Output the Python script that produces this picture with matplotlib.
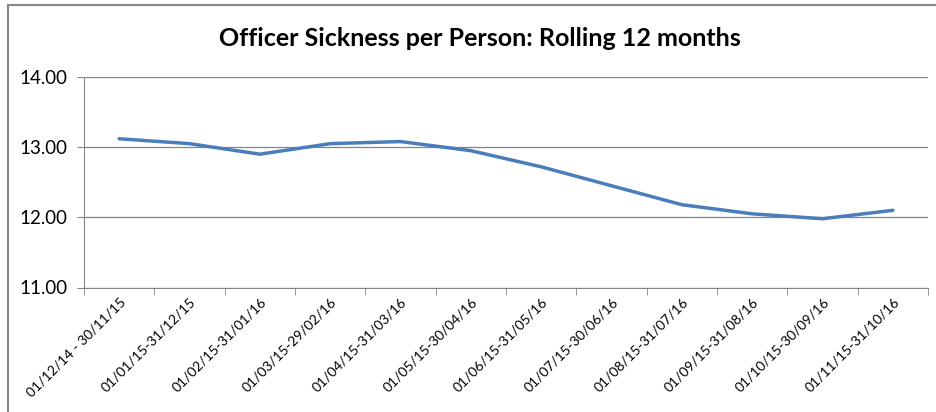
import matplotlib.pyplot as plt
from matplotlib.patches import Rectangle

periods = ['01/12/14 - 30/11/15', '01/01/15-31/12/15', '01/02/15-31/01/16',
           '01/03/15-29/02/16', '01/04/15-31/03/16', '01/05/15-30/04/16',
           '01/06/15-31/05/16', '01/07/15-30/06/16', '01/08/15-31/07/16',
           '01/09/15-31/08/16', '01/10/15-30/09/16', '01/11/15-31/10/16']
sickness = [13.12, 13.05, 12.90, 13.05, 13.08, 12.95,
            12.72, 12.45, 12.18, 12.05, 11.98, 12.10]

plt.rcParams['font.family'] = ['Lato', 'DejaVu Sans']

fig = plt.figure(figsize=(9.37, 4.12), dpi=100)
ax = fig.add_axes([84 / 937, 1 - 287.5 / 412, 844 / 937, 210.5 / 412])

# chart border
fig.patches.append(Rectangle((8.5 / 937, -0.1), 1.2, 1 - 4.5 / 412 + 0.1,
                             transform=fig.transFigure, fill=False,
                             edgecolor='#868686', linewidth=1.5))

x = list(range(len(periods)))
ax.plot(x, sickness, color='#4A7EBB', linewidth=2.5, solid_joinstyle='round',
        solid_capstyle='round')

ax.set_ylim(11, 14)
ax.set_yticks([11, 12, 13, 14])
ax.set_yticklabels(['%.2f' % v for v in [11, 12, 13, 14]], fontsize=13.5)
ax.set_xlim(-0.5, len(periods) - 0.5)
ax.set_xticks(x)
ax.set_xticklabels(periods, rotation=45, ha='right', va='top',
                   rotation_mode='anchor', fontsize=10)
ax.set_xticks([i - 0.5 for i in range(len(periods) + 1)], minor=True)
ax.tick_params(axis='x', which='major', length=0, pad=6)
ax.tick_params(axis='x', which='minor', length=5, color='#868686')
ax.tick_params(axis='y', length=5, color='#868686', pad=7)
ax.grid(axis='y', color='#868686', linewidth=0.9)
ax.set_axisbelow(True)
for s in ['top', 'right']:
    ax.spines[s].set_visible(False)
for s in ['left', 'bottom']:
    ax.spines[s].set_color('#868686')

fig.text(480 / 937, 1 - 38 / 412, 'Officer Sickness per Person: Rolling 12 months',
         ha='center', va='center', fontsize=18, fontweight='bold')

fig.savefig('out.png', dpi=100)
